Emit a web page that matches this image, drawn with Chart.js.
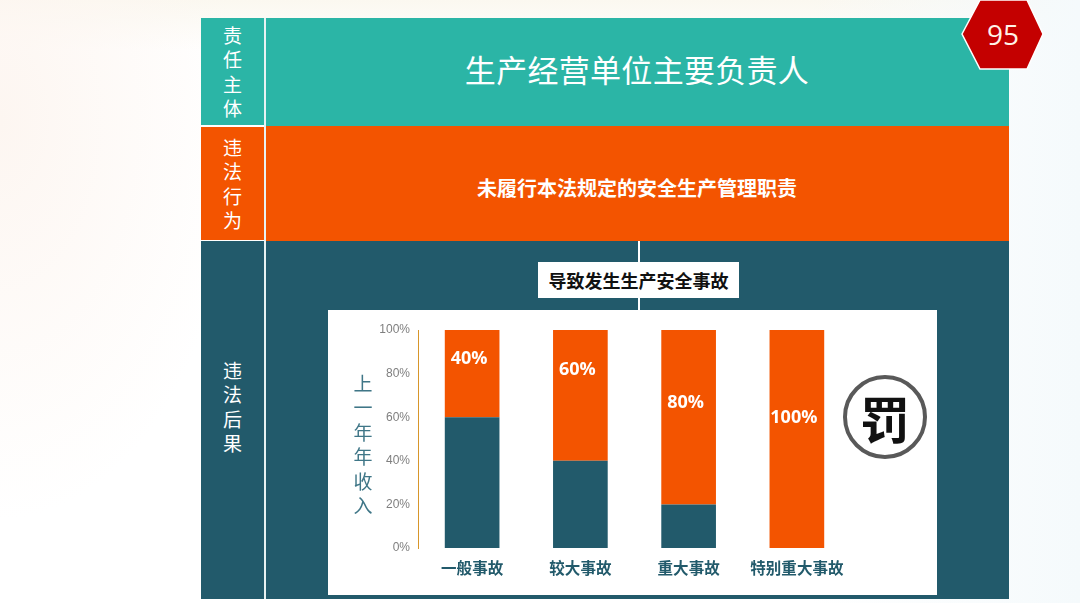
<!DOCTYPE html>
<html lang="zh-CN">
<head>
<meta charset="UTF-8">
<title>违法后果</title>
<script src="https://cdn.jsdelivr.net/npm/chart.js"></script>
<style>
    html, body { margin: 0; padding: 0; }
    body {
        width: 1080px; height: 603px; overflow: hidden; position: relative;
        font-family: "Noto Sans CJK SC", sans-serif;
        background:
            radial-gradient(ellipse 240px 400px at 0 120px, #fdf6f1 0%, rgba(253,246,241,0) 100%),
            linear-gradient(90deg, rgba(255,255,255,0) 75%, #f5fafc 100%),
            linear-gradient(180deg, #fbf8f0 0, #fff 50px, #fff 100%);
    }
    .box { position: absolute; color: #fff; display: flex; align-items: center; justify-content: center; text-align: center; box-sizing: border-box; }
    .side { font-size: 19px; line-height: 24.5px; width: 63px; }
    .teal { background: #2bb5a6; }
    .orange { background: #f35400; }
    .dark { background: #225a6b; }
    .stub { position: absolute; left: 638px; width: 2px; background: #fff; }
    #divider { position: absolute; left: 264px; top: 18px; width: 1.5px; height: 581px; background: #e8f2f2; }
    #panel { position: absolute; left: 328px; top: 310px; width: 609px; height: 285px; background: #fff; }
    #panel canvas { position: absolute; left: 0; top: 0; }
    #ytitle { position: absolute; left: 351px; top: 371px; width: 24px; color: #3f7687; font-size: 19px; line-height: 24.4px; text-align: center; }
    #stamp {
        position: absolute; left: 843px; top: 375px; width: 76px; height: 76px;
        border: 4px solid #595959; border-radius: 50%; background: #fff;
        display: flex; align-items: center; justify-content: center;
        font-size: 50px; font-weight: 700; color: #111; line-height: 1;
    }
    #hex { position: absolute; left: 961px; top: -1px; }
</style>
</head>
<body>
    <div class="box teal" style="left:265px;top:18px;width:744px;height:108px;font-size:31px;letter-spacing:.3px;padding-bottom:7px;">生产经营单位主要负责人</div>
    <div class="box orange" style="left:265px;top:126px;width:744px;height:115px;font-size:20px;font-weight:700;padding-top:7px;">未履行本法规定的安全生产管理职责</div>
    <div class="box dark" style="left:265px;top:241px;width:744px;height:358px;"></div>

    <div class="box side teal" style="left:201px;top:18px;height:107px;">责<br>任<br>主<br>体</div>
    <div class="box side orange" style="left:201px;top:127px;height:113px;">违<br>法<br>行<br>为</div>
    <div class="box side dark" style="left:201px;top:241px;height:358px;padding-bottom:27px;">违<br>法<br>后<br>果</div>
    <div id="divider"></div>

    <div class="stub" style="top:241px;height:21px;"></div>
    <div class="stub" style="top:298px;height:12px;"></div>
    <div class="box" style="left:538px;top:262px;width:201px;height:36px;background:#fff;color:#111;font-size:18px;font-weight:700;">导致发生生产安全事故</div>

    <div id="panel"><canvas id="chart" width="609" height="285"></canvas></div>
    <div id="ytitle">上<br>一<br>年<br>年<br>收<br>入</div>
    <div id="stamp">罚</div>

    <svg id="hex" width="84" height="72">
        <polygon points="1,35 19,1 66,1 82,35 66,70 19,70" fill="#c40000" stroke="#fff" stroke-width="1.5"/>
        <text x="42" y="46" text-anchor="middle" font-family="Open Sans" font-size="28" fill="#fff3e8">95</text>
    </svg>

<script>
    const categories = ['一般事故', '较大事故', '重大事故', '特别重大事故'];
    const remaining = [60, 40, 20, 0];
    const fine = [40, 60, 80, 100];
    const fineLabels = ['40%', '60%', '80%', '100%'];
    const yTicks = [0, 20, 40, 60, 80, 100];

    // the percent labels sit at uneven heights in the bars, so they are placed by axis value
    const labelHeights = [86.7, 81.7, 66.7, 59.7];
    const fineLabelPlugin = {
        id: 'fineLabels',
        afterDatasetsDraw(chart) {
            const { ctx, scales } = chart;
            ctx.save();
            ctx.fillStyle = '#fff';
            ctx.font = 'bold 18px "Open Sans", sans-serif';
            ctx.textAlign = 'center';
            ctx.textBaseline = 'middle';
            fineLabels.forEach((text, i) => {
                ctx.fillText(text, scales.x.getPixelForValue(i) - 3, scales.y.getPixelForValue(labelHeights[i]));
            });
            ctx.restore();
        }
    };

    new Chart(document.getElementById('chart'), {
        type: 'bar',
        data: {
            labels: categories,
            datasets: [
                { label: '其余', data: remaining, backgroundColor: '#225a6b' },
                { label: '罚款', data: fine, backgroundColor: '#f35400' }
            ]
        },
        options: {
            responsive: false,
            animation: false,
            categoryPercentage: 1,
            barPercentage: 0.505,
            layout: { padding: { top: 20, right: 86 } },
            plugins: { legend: { display: false }, tooltip: { enabled: false } },
            scales: {
                x: {
                    stacked: true,
                    grid: { display: false },
                    border: { display: false },
                    afterFit(scale) { scale.height = 47; },
                    ticks: { padding: 3, color: '#225a6b', maxRotation: 0, autoSkip: false, font: { family: '"Noto Sans CJK SC"', size: 15.5, weight: 'bold' } }
                },
                y: {
                    stacked: true,
                    min: 0,
                    max: 100,
                    afterFit(scale) { scale.width = 90; },
                    afterBuildTicks(scale) { scale.ticks = yTicks.map(v => ({ value: v })); },
                    grid: { display: false, drawTicks: false },
                    border: { display: true, color: '#d8962a', width: 1 },
                    ticks: { padding: 8, color: '#7f7f7f', callback: v => v + '%', font: { family: '"Liberation Sans"', size: 12 } }
                }
            }
        },
        plugins: [fineLabelPlugin]
    });
</script>
</body>
</html>
